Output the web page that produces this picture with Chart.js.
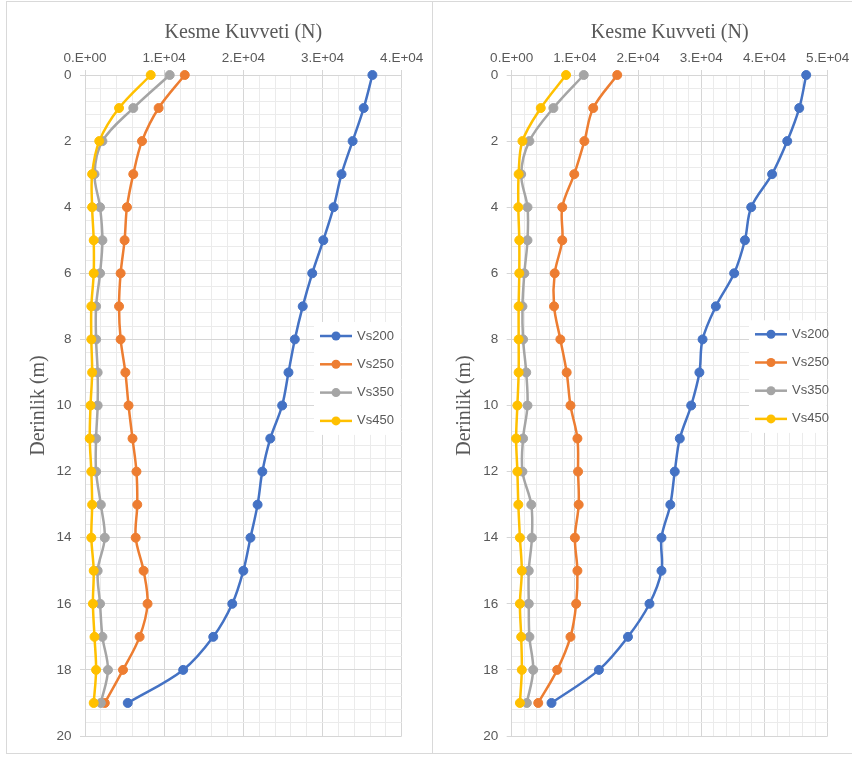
<!DOCTYPE html>
<html>
<head>
<meta charset="utf-8">
<script src="https://cdn.jsdelivr.net/npm/chart.js@4/dist/chart.umd.min.js"></script>
<style>
  html, body { margin:0; padding:0; background:#fff; overflow:hidden; width:852px; height:758px; }
  .panel { position:absolute; top:1px; height:753px; border:1px solid #d9d9d9; box-sizing:border-box; background:#fff; }
  #p1 { left:6px; width:427px; }
  #p2 { left:432px; width:440px; }
  canvas { display:block; }
</style>
</head>
<body>
<div class="panel" id="p1"><canvas id="c1" width="425" height="751"></canvas></div>
<div class="panel" id="p2"><canvas id="c2" width="438" height="751"></canvas></div>
<script>
'use strict';

// depth (m)
const depth = [0, 1, 2, 3, 4, 5, 6, 7, 8, 9, 10, 11, 12, 13, 14, 15, 16, 17, 18, 19];
const seriesNames = ['Vs200', 'Vs250', 'Vs350', 'Vs450'];

// left chart - shear force (N)
const vs200L = [36300, 35200, 33800, 32400, 31400, 30100, 28700, 27500, 26500, 25700, 24900, 23400, 22400, 21800, 20900, 20000, 18600, 16200, 12400, 5400];
const vs250L = [12600, 9300, 7200, 6100, 5300, 5000, 4500, 4300, 4500, 5100, 5500, 6000, 6500, 6600, 6400, 7400, 7900, 6900, 4800, 2500];
const vs350L = [10700, 6100, 2200, 1200, 1900, 2200, 1900, 1400, 1400, 1600, 1600, 1400, 1400, 2000, 2500, 1600, 1900, 2200, 2900, 2000];
const vs450L = [8300, 4300, 1800, 900, 900, 1100, 1100, 800, 800, 900, 700, 600, 800, 900, 800, 1100, 1000, 1200, 1400, 1100];

// right chart - shear force (N)
const vs200R = [46600, 45500, 43600, 41200, 37900, 36900, 35200, 32300, 30200, 29700, 28400, 26600, 25800, 25100, 23700, 23700, 21800, 18400, 13800, 6300];
const vs250R = [16700, 12900, 11500, 9900, 8000, 8000, 6800, 6700, 7700, 8700, 9300, 10400, 10500, 10600, 10000, 10400, 10200, 9300, 7200, 4200];
const vs350R = [11400, 6600, 2800, 1500, 2500, 2500, 2000, 1700, 1800, 2300, 2500, 1800, 1700, 3100, 3200, 2700, 2700, 2800, 3400, 2400];
const vs450R = [8600, 4600, 1700, 1100, 1050, 1200, 1200, 1100, 1100, 1100, 900, 700, 900, 1050, 1300, 1600, 1300, 1500, 1600, 1300];

const colors = ['#4472C4', '#ED7D31', '#A5A5A5', '#FFC000'];
const tickFont = { family: 'Liberation Sans, Arial, sans-serif', size: 13.5 };
const titleFont = { family: 'Liberation Serif, Times New Roman, serif', size: 20 };
const textColor = '#595959';
const majorGrid = '#d6d6d6';
const minorGrid = '#ebebeb';

function sciLabel(v) {
    if (v === 0) return '0.E+00';
    return Math.round(v / 10000) + '.E+04';
}

function isMajorDepth(v) {
    return Math.abs(v / 2 - Math.round(v / 2)) < 1e-6;
}

// legend drawn inside the plot, white box behind it like excel
const boxLegend = {
    id: 'boxLegend',
    afterDatasetsDraw(chart, args, opts) {
        const ctx = chart.ctx;
        const n = chart.data.datasets.length;
        const right = chart.chartArea.right - 1;
        ctx.save();
        ctx.fillStyle = '#ffffff';
        ctx.fillRect(opts.x - 6, opts.y - 14, right - (opts.x - 6), opts.gap * (n - 1) + 28);
        ctx.font = '13px Liberation Sans, Arial, sans-serif';
        ctx.textBaseline = 'middle';
        chart.data.datasets.forEach((ds, i) => {
            const y = opts.y + i * opts.gap;
            ctx.strokeStyle = ds.borderColor;
            ctx.lineWidth = 2.5;
            ctx.beginPath();
            ctx.moveTo(opts.x, y);
            ctx.lineTo(opts.x + 32, y);
            ctx.stroke();
            ctx.fillStyle = ds.borderColor;
            ctx.beginPath();
            ctx.arc(opts.x + 16, y, 4.5, 0, Math.PI * 2);
            ctx.fill();
            ctx.fillStyle = textColor;
            ctx.fillText(ds.label, opts.x + 37, y);
        });
        ctx.restore();
    }
};

function makeChart(id, series, xMax, yWidth, padRight, legendPos) {
    const datasets = series.map((vals, i) => ({
        label: seriesNames[i],
        data: vals.map((v, k) => ({ x: v, y: depth[k] })),
        borderColor: colors[i],
        backgroundColor: colors[i],
        borderWidth: 2.5,
        pointRadius: 4.5,
        pointHoverRadius: 4.5,
        pointBorderWidth: 1,
        showLine: true,
        tension: 0.35,
        clip: false,
        order: 3 - i
    }));

    return new Chart(document.getElementById(id), {
        type: 'scatter',
        data: { datasets: datasets },
        plugins: [boxLegend],
        options: {
            responsive: false,
            animation: false,
            devicePixelRatio: 1,
            layout: { padding: { left: 14, right: padRight, top: 5, bottom: 17 } },
            plugins: {
                legend: { display: false },
                tooltip: { enabled: false },
                boxLegend: legendPos
            },
            scales: {
                x: {
                    type: 'linear',
                    position: 'top',
                    min: 0,
                    max: xMax,
                    afterFit: s => { s.height = 68; },
                    ticks: {
                        stepSize: 2000,
                        autoSkip: false,
                        maxRotation: 0,
                        padding: 4,
                        color: textColor,
                        font: tickFont,
                        callback: v => (v % 10000 === 0 ? sciLabel(v) : '')
                    },
                    grid: {
                        color: c => (c.tick && c.tick.value % 10000 === 0 ? majorGrid : minorGrid),
                        tickColor: c => (c.tick && c.tick.value % 10000 === 0 ? majorGrid : 'rgba(0,0,0,0)'),
                        tickLength: 5,
                        lineWidth: 1
                    },
                    border: { color: majorGrid },
                    title: {
                        display: true,
                        text: 'Kesme Kuvveti (N)',
                        color: textColor,
                        font: titleFont,
                        padding: { top: 14, bottom: 0 }
                    }
                },
                y: {
                    type: 'linear',
                    reverse: true,
                    min: 0,
                    max: 20,
                    afterFit: s => { s.width = yWidth; },
                    ticks: {
                        stepSize: 0.4,
                        autoSkip: false,
                        padding: 8.5,
                        color: textColor,
                        font: tickFont,
                        callback: v => (isMajorDepth(v) ? String(Math.round(v)) : '')
                    },
                    grid: {
                        color: c => (c.tick && isMajorDepth(c.tick.value) ? majorGrid : minorGrid),
                        tickColor: c => (c.tick && isMajorDepth(c.tick.value) ? majorGrid : 'rgba(0,0,0,0)'),
                        tickLength: 5,
                        lineWidth: 1
                    },
                    border: { color: majorGrid },
                    title: {
                        display: true,
                        text: 'Derinlik (m)',
                        color: textColor,
                        font: titleFont,
                        padding: { top: 6, bottom: 0 }
                    }
                }
            }
        }
    });
}

makeChart('c1', [vs200L, vs250L, vs350L, vs450L], 40000, 64, 30.3, { x: 313, y: 334, gap: 28.3 });
makeChart('c2', [vs200R, vs250R, vs350R, vs450R], 50000, 64.7, 43.3, { x: 322, y: 332.3, gap: 28.2 });
</script>
</body>
</html>
